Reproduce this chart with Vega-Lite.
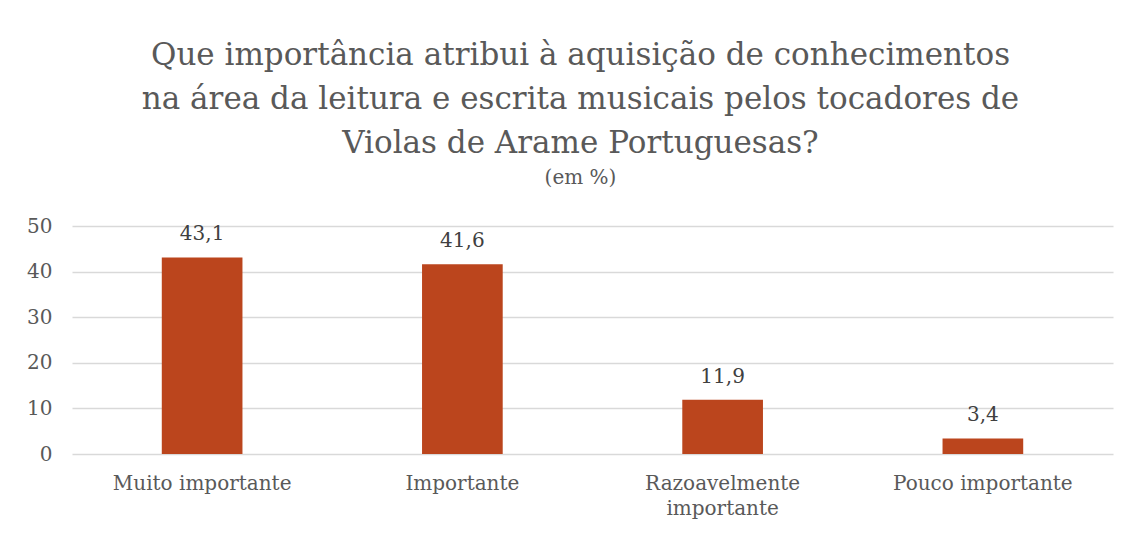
{
  "$schema": "https://vega.github.io/schema/vega-lite/v6.json",
  "width": 1041,
  "height": 228,
  "autosize": {"type": "none"},
  "padding": {"left": 72, "top": 226, "right": 18, "bottom": 80},
  "background": "white",
  "data": {"values": [
    {"cat": "Muito importante", "pct": 43.1, "lbl": "43,1"},
    {"cat": "Importante", "pct": 41.6, "lbl": "41,6"},
    {"cat": "Razoavelmente importante", "pct": 11.9, "lbl": "11,9"},
    {"cat": "Pouco importante", "pct": 3.4, "lbl": "3,4"}
  ]},
  "title": {
    "text": ["Que importância atribui à aquisição de conhecimentos", "na área da leitura e escrita musicais pelos tocadores de", "Violas de Arame Portuguesas?"],
    "subtitle": "(em %)",
    "anchor": "middle",
    "frame": "group",
    "dx": -12,
    "offset": 27,
    "font": "DejaVu Serif",
    "fontSize": 31,
    "fontWeight": "normal",
    "color": "#595959",
    "lineHeight": 44,
    "subtitleFont": "DejaVu Serif",
    "subtitleFontSize": 20,
    "subtitleColor": "#595959",
    "subtitlePadding": 8
  },
  "encoding": {
    "x": {
      "field": "cat", "type": "nominal", "sort": null,
      "scale": {"paddingInner": 0.69, "paddingOuter": 0.345},
      "axis": {
        "title": null, "labelAngle": 0, "ticks": false, "domain": false,
        "labelFont": "DejaVu Serif", "labelFontSize": 20, "labelColor": "#595959",
        "labelPadding": 19, "labelLineHeight": 25,
        "labelExpr": "datum.label == 'Razoavelmente importante' ? ['Razoavelmente', 'importante'] : datum.label"
      }
    },
    "y": {
      "field": "pct", "type": "quantitative",
      "scale": {"domain": [0, 50], "nice": false},
      "axis": {
        "title": null, "values": [0, 10, 20, 30, 40, 50], "ticks": false, "domain": false,
        "labelFont": "DejaVu Serif", "labelFontSize": 20, "labelColor": "#595959",
        "labelPadding": 20, "gridColor": "#d9d9d9", "gridWidth": 1.5
      }
    }
  },
  "layer": [
    {"mark": {"type": "bar", "color": "#BB451D"}},
    {"mark": {"type": "text", "dy": -17, "baseline": "alphabetic", "font": "DejaVu Serif", "fontSize": 20, "color": "#404040"},
     "encoding": {"text": {"field": "lbl"}}}
  ],
  "config": {"view": {"stroke": null}}
}
